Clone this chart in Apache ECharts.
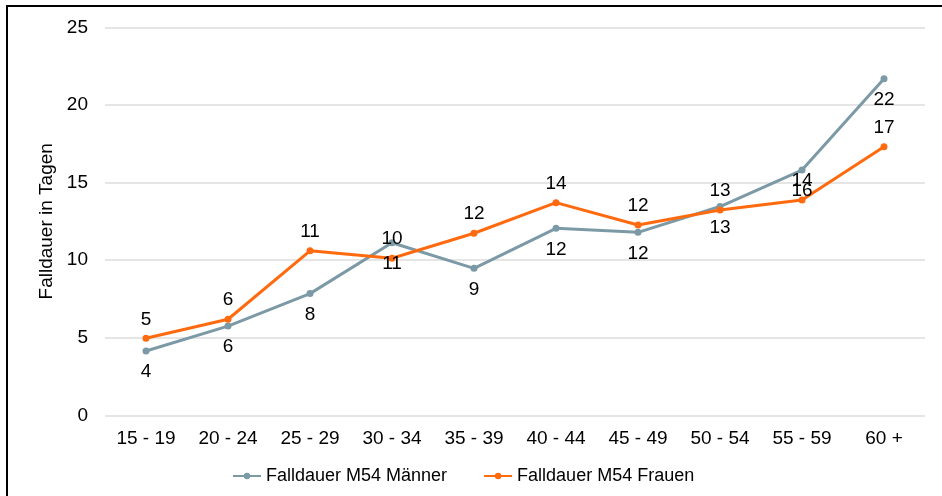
<!DOCTYPE html>
<html>
<head>
<meta charset="utf-8">
<script src="https://cdn.jsdelivr.net/npm/echarts@6/dist/echarts.min.js"></script>
<style>
  html, body { margin: 0; padding: 0; background: #fff; }
  #wrap { position: relative; width: 942px; height: 496px; overflow: hidden; }
  #chart { position: absolute; left: 0; top: 0; width: 942px; height: 496px; }
  #frame { position: absolute; left: 6px; top: 5px; width: 1200px; height: 800px;
           border-left: 2px solid #000; border-top: 2px solid #000; pointer-events: none; }
</style>
</head>
<body>
<div id="wrap">
  <div id="chart"></div>
  <div id="frame"></div>
</div>
<script>
// Altersgruppen
const ageGroups = ['15 - 19', '20 - 24', '25 - 29', '30 - 34', '35 - 39', '40 - 44', '45 - 49', '50 - 54', '55 - 59', '60 +'];
// Falldauer in Tagen
const maenner = [4.14, 5.75, 7.84, 11.12, 9.47, 12.05, 11.79, 13.45, 15.8, 21.69];
const frauen = [4.96, 6.19, 10.6, 10.12, 11.73, 13.7, 12.26, 13.23, 13.87, 17.3];
const seriesNames = ['Falldauer M54 Männer', 'Falldauer M54 Frauen'];
const yTitle = 'Falldauer in Tagen';

const FONT = '"Liberation Sans", Arial, sans-serif';
const GREY = '#7C9AA6';
const ORANGE = '#FF6A0E';

const chart = echarts.init(document.getElementById('chart'), null, { renderer: 'canvas' });

function lineSeries(name, data, color, pos, dist) {
  return {
    name: name,
    type: 'line',
    data: data,
    symbol: 'circle',
    symbolSize: 7,
    lineStyle: { color: color, width: 3 },
    itemStyle: { color: color },
    label: {
      show: true,
      position: pos,
      distance: dist,
      color: '#000',
      fontFamily: FONT,
      fontSize: 19,
      formatter: p => String(Math.round(p.value))
    },
    emphasis: { disabled: true },
    animation: false
  };
}

chart.setOption({
  backgroundColor: 'transparent',
  textStyle: { fontFamily: FONT },
  grid: { left: 105, right: 17, top: 27.3, bottom: 80.7 },
  legend: {
    data: seriesNames,
    left: 227,
    top: 462,
    itemWidth: 28,
    itemHeight: 8,
    itemGap: 36,
    textStyle: { fontFamily: FONT, fontSize: 18, color: '#000' }
  },
  xAxis: {
    type: 'category',
    data: ageGroups,
    boundaryGap: true,
    axisLine: { show: false },
    axisTick: { show: false },
    axisLabel: { color: '#000', fontFamily: FONT, fontSize: 19, margin: 14 }
  },
  yAxis: {
    type: 'value',
    min: 0,
    max: 25,
    interval: 5,
    name: yTitle,
    nameLocation: 'middle',
    nameGap: 42,
    nameTextStyle: { color: '#000', fontFamily: FONT, fontSize: 19 },
    axisLine: { show: false },
    axisTick: { show: false },
    axisLabel: { color: '#000', fontFamily: FONT, fontSize: 19, margin: 17 },
    splitLine: { lineStyle: { color: '#DDDDDD', width: 1.5 } }
  },
  series: [
    lineSeries(seriesNames[0], maenner, GREY, 'bottom', 8),
    lineSeries(seriesNames[1], frauen, ORANGE, 'top', 6)
  ]
});
</script>
</body>
</html>
